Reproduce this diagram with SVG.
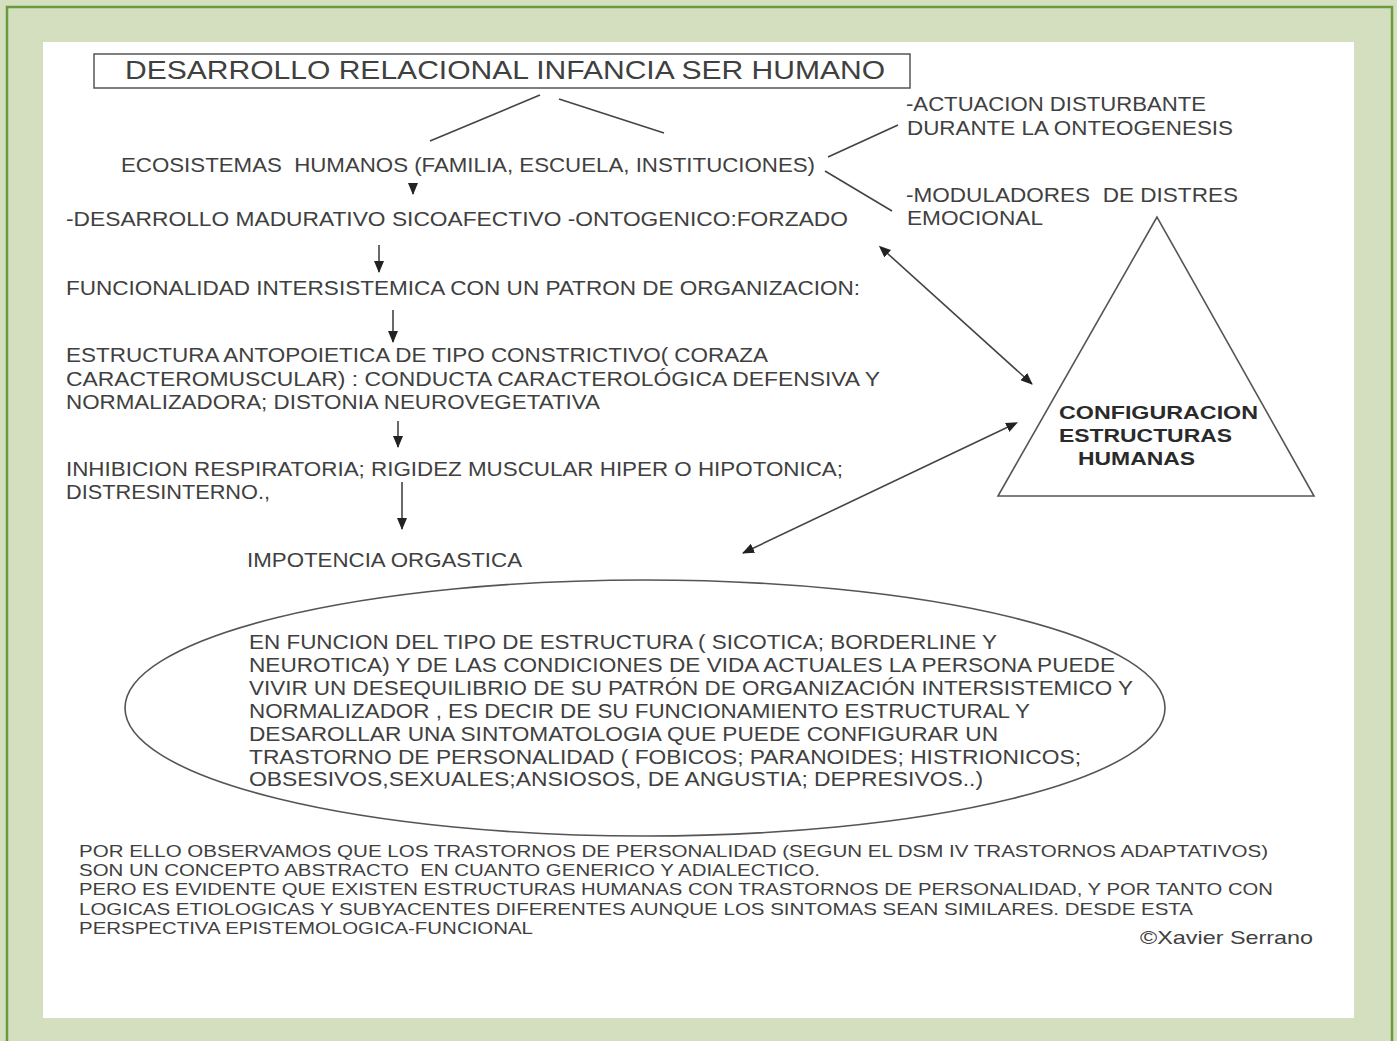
<svg xmlns="http://www.w3.org/2000/svg" width="1397" height="1041" viewBox="0 0 1397 1041">
<defs>
<style>
.t{font-family:"Liberation Sans",Arial,sans-serif;fill:#404040;white-space:pre;}
.s20{font-size:20px;}
.s17{font-size:17px;}
.b{font-weight:bold;fill:#2a2a2a;}
.ln{stroke:#444;stroke-width:1.6;fill:none;}
</style>
<marker id="ah" viewBox="0 0 12 10" refX="11" refY="5" markerWidth="12" markerHeight="10" markerUnits="userSpaceOnUse" orient="auto">
<path d="M0,0 L12,5 L0,10 Z" fill="#222"/>
</marker>
<marker id="ahs" viewBox="0 0 12 10" refX="1" refY="5" markerWidth="12" markerHeight="10" markerUnits="userSpaceOnUse" orient="auto-start-reverse">
<path d="M0,0 L12,5 L0,10 Z" fill="#222"/>
</marker>
</defs>
<rect x="0" y="0" width="1397" height="1041" fill="#d3dfbf"/>
<rect x="7" y="7" width="1385" height="1045" fill="none" stroke="#6b9a3c" stroke-width="2.5"/>
<rect x="43" y="42" width="1311" height="976" fill="#fff"/>

<g id="title">
<rect x="94" y="54" width="816" height="34" fill="none" stroke="#555" stroke-width="1.5"/>
<text class="t" x="125" y="79" font-size="26" textLength="760" lengthAdjust="spacingAndGlyphs">DESARROLLO RELACIONAL INFANCIA SER HUMANO</text>
</g>

<g id="connectors">
<line class="ln" x1="540" y1="95" x2="430" y2="141"/>
<line class="ln" x1="559" y1="99" x2="664" y2="133"/>
<line class="ln" x1="828" y1="157" x2="898" y2="125"/>
<line class="ln" x1="825" y1="171" x2="892" y2="211"/>
<line class="ln" x1="413" y1="183" x2="413" y2="194" marker-end="url(#ah)"/>
<line class="ln" x1="379" y1="245" x2="379" y2="272" marker-end="url(#ah)"/>
<line class="ln" x1="393" y1="310" x2="393" y2="342" marker-end="url(#ah)"/>
<line class="ln" x1="398" y1="421" x2="398" y2="447" marker-end="url(#ah)"/>
<line class="ln" x1="402" y1="482" x2="402" y2="529" marker-end="url(#ah)"/>
<line class="ln" x1="887" y1="253" x2="1032" y2="384" marker-start="url(#ahs)" marker-end="url(#ah)"/>
<line class="ln" x1="1008" y1="427" x2="743" y2="553" marker-start="url(#ahs)" marker-end="url(#ah)"/>
</g>

<g id="ecosistemas">
<text class="t s20" x="121" y="172" textLength="694" lengthAdjust="spacingAndGlyphs" xml:space="preserve">ECOSISTEMAS  HUMANOS (FAMILIA, ESCUELA, INSTITUCIONES)</text>
</g>
<g id="actuacion">
<text class="t s20" x="906" y="111" textLength="300" lengthAdjust="spacingAndGlyphs">-ACTUACION DISTURBANTE</text>
<text class="t s20" x="907" y="135" textLength="326" lengthAdjust="spacingAndGlyphs">DURANTE LA ONTEOGENESIS</text>
</g>
<g id="moduladores">
<text class="t s20" x="906" y="202" textLength="332" lengthAdjust="spacingAndGlyphs" xml:space="preserve">-MODULADORES  DE DISTRES</text>
<text class="t s20" x="907" y="225" textLength="136" lengthAdjust="spacingAndGlyphs">EMOCIONAL</text>
</g>
<g id="desarrollo">
<text class="t s20" x="66" y="226" textLength="782" lengthAdjust="spacingAndGlyphs">-DESARROLLO MADURATIVO SICOAFECTIVO -ONTOGENICO:FORZADO</text>
</g>
<g id="funcionalidad">
<text class="t s20" x="66" y="295" textLength="794" lengthAdjust="spacingAndGlyphs">FUNCIONALIDAD INTERSISTEMICA CON UN PATRON DE ORGANIZACION:</text>
</g>
<g id="estructura">
<text class="t s20" x="66" y="362" textLength="702" lengthAdjust="spacingAndGlyphs">ESTRUCTURA ANTOPOIETICA DE TIPO CONSTRICTIVO( CORAZA</text>
<text class="t s20" x="66" y="386" textLength="814" lengthAdjust="spacingAndGlyphs">CARACTEROMUSCULAR) : CONDUCTA CARACTEROLÓGICA DEFENSIVA Y</text>
<text class="t s20" x="66" y="409" textLength="534" lengthAdjust="spacingAndGlyphs">NORMALIZADORA; DISTONIA NEUROVEGETATIVA</text>
</g>
<g id="inhibicion">
<text class="t s20" x="66" y="476" textLength="777" lengthAdjust="spacingAndGlyphs">INHIBICION RESPIRATORIA; RIGIDEZ MUSCULAR HIPER O HIPOTONICA;</text>
<text class="t s20" x="66" y="499" textLength="204" lengthAdjust="spacingAndGlyphs">DISTRESINTERNO.,</text>
</g>
<g id="impotencia">
<text class="t s20" x="247" y="567" textLength="275" lengthAdjust="spacingAndGlyphs">IMPOTENCIA ORGASTICA</text>
</g>
<g id="configuracion">
<polygon points="1157,217 998,496 1314,496" fill="none" stroke="#555" stroke-width="1.6"/>
<text class="t b" x="1059" y="419" font-size="19" textLength="199" lengthAdjust="spacingAndGlyphs">CONFIGURACION</text>
<text class="t b" x="1059" y="442" font-size="19" textLength="173" lengthAdjust="spacingAndGlyphs">ESTRUCTURAS</text>
<text class="t b" x="1078" y="465" font-size="19" textLength="117" lengthAdjust="spacingAndGlyphs">HUMANAS</text>
</g>
<g id="ellipse-node">
<ellipse cx="645" cy="708" rx="520" ry="128" fill="none" stroke="#555" stroke-width="1.6"/>
<text class="t s20" x="249" y="649" textLength="748" lengthAdjust="spacingAndGlyphs">EN FUNCION DEL TIPO DE ESTRUCTURA ( SICOTICA; BORDERLINE Y</text>
<text class="t s20" x="249" y="672" textLength="866" lengthAdjust="spacingAndGlyphs">NEUROTICA) Y DE LAS CONDICIONES DE VIDA ACTUALES LA PERSONA PUEDE</text>
<text class="t s20" x="249" y="695" textLength="884" lengthAdjust="spacingAndGlyphs">VIVIR UN DESEQUILIBRIO DE SU PATRÓN DE ORGANIZACIÓN INTERSISTEMICO Y</text>
<text class="t s20" x="249" y="718" textLength="781" lengthAdjust="spacingAndGlyphs">NORMALIZADOR , ES DECIR DE SU FUNCIONAMIENTO ESTRUCTURAL Y</text>
<text class="t s20" x="249" y="741" textLength="749" lengthAdjust="spacingAndGlyphs">DESAROLLAR UNA SINTOMATOLOGIA QUE PUEDE CONFIGURAR UN</text>
<text class="t s20" x="249" y="764" textLength="832" lengthAdjust="spacingAndGlyphs">TRASTORNO DE PERSONALIDAD ( FOBICOS; PARANOIDES; HISTRIONICOS;</text>
<text class="t s20" x="249" y="786" textLength="734" lengthAdjust="spacingAndGlyphs">OBSESIVOS,SEXUALES;ANSIOSOS, DE ANGUSTIA; DEPRESIVOS..)</text>
</g>
<g id="conclusion">
<text class="t s17" x="79" y="857" textLength="1189" lengthAdjust="spacingAndGlyphs">POR ELLO OBSERVAMOS QUE LOS TRASTORNOS DE PERSONALIDAD (SEGUN EL DSM IV TRASTORNOS ADAPTATIVOS)</text>
<text class="t s17" x="79" y="876" textLength="741" lengthAdjust="spacingAndGlyphs" xml:space="preserve">SON UN CONCEPTO ABSTRACTO  EN CUANTO GENERICO Y ADIALECTICO.</text>
<text class="t s17" x="79" y="895" textLength="1194" lengthAdjust="spacingAndGlyphs">PERO ES EVIDENTE QUE EXISTEN ESTRUCTURAS HUMANAS CON TRASTORNOS DE PERSONALIDAD, Y POR TANTO CON</text>
<text class="t s17" x="79" y="915" textLength="1114" lengthAdjust="spacingAndGlyphs">LOGICAS ETIOLOGICAS Y SUBYACENTES DIFERENTES AUNQUE LOS SINTOMAS SEAN SIMILARES. DESDE ESTA</text>
<text class="t s17" x="79" y="934" textLength="454" lengthAdjust="spacingAndGlyphs">PERSPECTIVA EPISTEMOLOGICA-FUNCIONAL</text>
<text class="t" x="1140" y="944" font-size="19" textLength="173" lengthAdjust="spacingAndGlyphs">©Xavier Serrano</text>
</g>
</svg>
